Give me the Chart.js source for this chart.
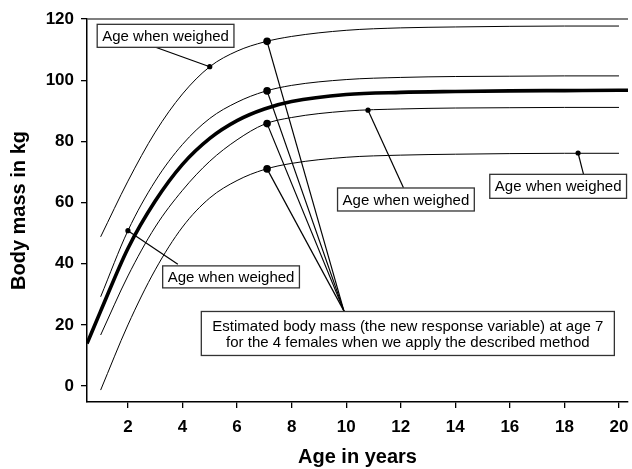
<!DOCTYPE html>
<html>
<head>
<meta charset="utf-8">
<script src="https://cdn.jsdelivr.net/npm/chart.js@4.4.1/dist/chart.umd.min.js"></script>
<style>
  html, body { margin: 0; padding: 0; background: #fff; }
</style>
</head>
<body>
<canvas id="massChart" width="632" height="469"></canvas>
<script>
// ages for the four individual curves, and for the mean curve
const ages = [1, 2, 3, 4, 5, 6, 7, 8, 10, 12, 14, 16, 18, 20];
const meanAges = [0.5, 1, 2, 3, 4, 5, 6, 7, 8, 10, 12, 14, 16, 18, 20, 20.4];

const female1 = [48.8, 67, 83, 95.5, 104.4, 109.5, 112.5, 114.3, 116.3, 117.1, 117.4, 117.6, 117.7, 117.7];
const female2 = [29.2, 50.8, 67, 79, 87.5, 92.8, 96.3, 98.3, 100.2, 100.9, 101.2, 101.3, 101.4, 101.4];
const female3 = [16.7, 36, 52, 64, 73.5, 80.5, 85.6, 87.8, 89.9, 90.6, 90.9, 91, 91.1, 91.1];
const female4 = [-1.3, 20, 38, 52, 61.5, 67.2, 70.8, 72.8, 74.8, 75.5, 75.8, 76, 76.1, 76.1];
const meanCurve = [13.9, 24.5, 45, 60.5, 72.5, 81, 86.8, 90.6, 93, 95.3, 96, 96.3, 96.5, 96.6, 96.7, 96.7];

// age when each female was weighed, and the mass there
const weighedAges = [5.0, 2.0, 10.8, 18.5];
const weighedMass = [104.4, 50.8, 90.2, 76.2];

// estimated mass at age 7
const estAge = 7.1;
const estMass = [112.7, 96.5, 85.8, 71.0];
const leaderEnd = { x: 9.92, y: 24.5 };

const xTicks = [2, 4, 6, 8, 10, 12, 14, 16, 18, 20];
const yTicks = [0, 20, 40, 60, 80, 100, 120];

const FONT = "'Liberation Sans', Arial, Helvetica, sans-serif";

const toPts = (xs, ys) => xs.map((x, i) => ({ x: x, y: ys[i] }));

const thin = data => ({
  data: data, borderColor: "#000", borderWidth: 1, pointRadius: 0,
  cubicInterpolationMode: "monotone", fill: false, order: 3
});

const datasets = [
  {
    data: toPts(weighedAges, weighedMass), showLine: false,
    pointRadius: 2.6, pointBackgroundColor: "#000", pointBorderWidth: 0, order: 0
  },
  {
    data: estMass.map(m => ({ x: estAge, y: m })), showLine: false,
    pointRadius: 3.8, pointBackgroundColor: "#000", pointBorderWidth: 0, order: 0
  },
  thin(toPts(ages, female1)),
  thin(toPts(ages, female2)),
  thin(toPts(ages, female3)),
  thin(toPts(ages, female4)),
  {
    data: toPts(meanAges, meanCurve), borderColor: "#000", borderWidth: 3.6,
    pointRadius: 0, cubicInterpolationMode: "monotone", fill: false, order: 2
  }
];

// leader lines from the estimated masses down to the big label
estMass.forEach(m => {
  datasets.push({
    data: [{ x: estAge, y: m }, leaderEnd], borderColor: "#000", borderWidth: 1.2,
    pointRadius: 0, tension: 0, order: 1
  });
});

// text boxes, placed in data units
const notes = [
  { lines: ["Age when weighed"], x: 3.38, y: 114.5, padX: 5, padY: 3, leader: [3.04, 110.7, 5.0, 104.4] },
  { lines: ["Age when weighed"], x: 12.19, y: 61.0, padX: 5, padY: 3, leader: [12.1, 64.8, 10.8, 90.2] },
  { lines: ["Age when weighed"], x: 17.77, y: 65.3, padX: 5, padY: 3.5, leader: [18.7, 69.2, 18.5, 76.2] },
  { lines: ["Age when weighed"], x: 5.78, y: 35.7, padX: 5, padY: 2.5, leader: [3.83, 39.8, 2.0, 50.8] },
  {
    lines: ["Estimated body mass (the new response variable) at age 7",
            "for the 4 females when we apply the described method"],
    x: 12.26, y: 17.2, padX: 11, padY: 5.5, leader: null
  }
];

const notesPlugin = {
  id: "notes",
  beforeDatasetsDraw(chart) {
    const ctx = chart.ctx, xs = chart.scales.x, ys = chart.scales.y;
    ctx.save();
    ctx.strokeStyle = "#000";
    ctx.lineWidth = 1.2;
    notes.forEach(n => {
      if (!n.leader) return;
      ctx.beginPath();
      ctx.moveTo(xs.getPixelForValue(n.leader[0]), ys.getPixelForValue(n.leader[1]));
      ctx.lineTo(xs.getPixelForValue(n.leader[2]), ys.getPixelForValue(n.leader[3]));
      ctx.stroke();
    });
    ctx.restore();
  },
  afterDatasetsDraw(chart) {
    const ctx = chart.ctx, xs = chart.scales.x, ys = chart.scales.y;
    const area = chart.chartArea;
    ctx.save();
    // grey frame line along the top
    ctx.strokeStyle = "#555";
    ctx.lineWidth = 1.5;
    ctx.beginPath();
    ctx.moveTo(area.left, area.top);
    ctx.lineTo(area.right, area.top);
    ctx.stroke();

    ctx.font = "15px " + FONT;
    ctx.textAlign = "center";
    ctx.textBaseline = "middle";
    const lh = 16;
    notes.forEach(n => {
      const cx = xs.getPixelForValue(n.x), cy = ys.getPixelForValue(n.y);
      const w = Math.max(...n.lines.map(l => ctx.measureText(l).width)) + 2 * n.padX;
      const h = n.lines.length * lh + 2 * n.padY + 1;
      ctx.fillStyle = "#fff";
      ctx.fillRect(cx - w / 2, cy - h / 2, w, h);
      ctx.strokeStyle = "#333";
      ctx.lineWidth = 1.3;
      ctx.strokeRect(cx - w / 2, cy - h / 2, w, h);
      ctx.fillStyle = "#000";
      n.lines.forEach((l, i) => {
        ctx.fillText(l, cx, cy + (i - (n.lines.length - 1) / 2) * lh + 1);
      });
    });
    ctx.restore();
  }
};

new Chart(document.getElementById("massChart"), {
  type: "line",
  data: { datasets: datasets },
  plugins: [notesPlugin],
  options: {
    responsive: false,
    animation: false,
    devicePixelRatio: 1,
    layout: { padding: { top: 19, right: 0, left: 0, bottom: 0 } },
    plugins: { legend: { display: false }, tooltip: { enabled: false } },
    scales: {
      x: {
        type: "linear", min: 0.5, max: 20.33,
        afterBuildTicks: s => { s.ticks = xTicks.map(v => ({ value: v })); },
        afterFit: s => { s.height = 67; s.paddingRight = 0; s.paddingLeft = 0; },
        ticks: {
          autoSkip: false, maxRotation: 0, padding: 9, color: "#000",
          font: { family: FONT, size: 17, weight: "bold" }
        },
        grid: { drawOnChartArea: false, drawTicks: true, tickLength: 6, color: "#000", lineWidth: 1.3 },
        border: { display: true, color: "#000", width: 1.5 },
        title: {
          display: true, text: "Age in years", color: "#000",
          font: { family: FONT, size: 20, weight: "bold" }, padding: { top: 0, bottom: 0 }
        }
      },
      y: {
        type: "linear", min: -5.2, max: 120,
        afterBuildTicks: s => { s.ticks = yTicks.map(v => ({ value: v })); },
        afterFit: s => { s.width = 87; s.paddingTop = 0; s.paddingBottom = 0; },
        ticks: {
          autoSkip: false, padding: 7, color: "#000",
          font: { family: FONT, size: 17, weight: "bold" }
        },
        grid: { drawOnChartArea: false, drawTicks: true, tickLength: 6, color: "#000", lineWidth: 1.3 },
        border: { display: true, color: "#000", width: 1.5 },
        title: {
          display: true, text: "Body mass in kg", color: "#000",
          font: { family: FONT, size: 20, weight: "bold" }, padding: { top: 7, bottom: 0 }
        }
      }
    }
  }
});
</script>
</body>
</html>
